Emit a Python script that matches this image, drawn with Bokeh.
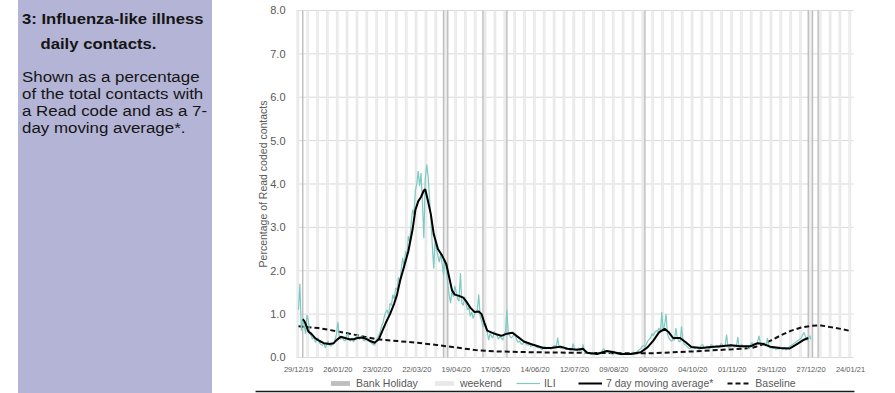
from datetime import datetime, timedelta
from bokeh.plotting import figure
from bokeh.models import (Range1d, FixedTicker, NumeralTickFormatter, DatetimeAxis,
                          DatetimeTickFormatter, Legend, LegendItem, Div,
                          ColumnDataSource, LinearAxis)
from bokeh.layouts import row
from bokeh.embed import file_html
from bokeh.resources import INLINE

# ---------------- data ----------------
start_date = "2019-12-29"
tick_dates = ["2019-12-29", "2020-01-26", "2020-02-23", "2020-03-22", "2020-04-19",
              "2020-05-17", "2020-06-14", "2020-07-12", "2020-08-09", "2020-09-06",
              "2020-10-04", "2020-11-01", "2020-11-29", "2020-12-27", "2021-01-24"]
y_ticks = [0, 1, 2, 3, 4, 5, 6, 7, 8]
bank_holidays = ["2020-01-01", "2020-04-10", "2020-04-13", "2020-05-08", "2020-05-25",
                 "2020-08-31", "2020-12-25", "2020-12-28", "2021-01-01"]

# ILI daily % (weeks Sun..Sat starting 29/12/19)
ili_weeks = [
    [1.10, 1.70, 0.62, 0.90, 0.75, 0.55, 0.98],
    [0.85, 0.55, 0.50, 0.42, 0.48, 0.35, 0.40],
    [0.45, 0.33, 0.30, 0.28, 0.35, 0.22, 0.30],
    [0.38, 0.28, 0.26, 0.30, 0.33, 0.42, 0.55],
    [0.82, 0.45, 0.42, 0.48, 0.40, 0.38, 0.50],
    [0.55, 0.40, 0.38, 0.45, 0.36, 0.40, 0.48],
    [0.52, 0.42, 0.45, 0.50, 0.40, 0.38, 0.46],
    [0.45, 0.38, 0.35, 0.33, 0.30, 0.28, 0.36],
    [0.45, 0.50, 0.60, 0.72, 0.80, 0.95, 1.05],
    [1.10, 0.98, 1.25, 1.20, 1.45, 1.35, 1.60],
    [1.55, 1.85, 1.70, 2.05, 2.30, 2.10, 2.45],
    [2.35, 2.80, 2.65, 3.10, 3.40, 3.30, 3.85],
    [4.00, 4.30, 3.95, 4.25, 3.60, 2.75, 4.10],
    [4.45, 4.20, 3.70, 3.20, 2.60, 2.05, 2.70],
    [2.50, 2.35, 2.20, 2.40, 2.15, 1.90, 2.25],
    [2.05, 1.70, 1.45, 1.25, 1.55, 1.40, 1.65],
    [1.50, 1.35, 1.30, 1.95, 1.25, 1.20, 1.40],
    [1.25, 1.10, 1.15, 0.95, 1.05, 0.90, 1.00],
    [1.05, 1.10, 1.45, 0.95, 0.85, 0.70, 0.80],
    [0.75, 0.60, 0.40, 0.55, 0.50, 0.45, 0.60],
    [0.55, 0.50, 0.42, 0.48, 0.45, 0.40, 0.52],
    [0.60, 1.10, 0.55, 0.50, 0.45, 0.48, 0.55],
    [0.50, 0.40, 0.35, 0.38, 0.32, 0.30, 0.36],
    [0.35, 0.30, 0.28, 0.32, 0.25, 0.27, 0.30],
    [0.28, 0.24, 0.22, 0.25, 0.20, 0.18, 0.24],
    [0.25, 0.20, 0.22, 0.24, 0.19, 0.21, 0.26],
    [0.28, 0.22, 0.46, 0.25, 0.22, 0.20, 0.24],
    [0.22, 0.18, 0.20, 0.21, 0.16, 0.18, 0.32],
    [0.20, 0.17, 0.19, 0.22, 0.16, 0.15, 0.30],
    [0.14, 0.10, 0.09, 0.11, 0.08, 0.07, 0.12],
    [0.10, 0.08, 0.09, 0.12, 0.10, 0.09, 0.18],
    [0.20, 0.12, 0.13, 0.15, 0.11, 0.10, 0.14],
    [0.13, 0.09, 0.08, 0.10, 0.07, 0.06, 0.10],
    [0.09, 0.07, 0.08, 0.09, 0.07, 0.08, 0.12],
    [0.12, 0.10, 0.12, 0.15, 0.18, 0.20, 0.25],
    [0.28, 0.25, 0.30, 0.38, 0.42, 0.45, 0.55],
    [0.50, 0.58, 0.62, 0.60, 0.68, 0.58, 1.04],
    [0.60, 0.75, 1.00, 0.55, 0.45, 0.40, 0.38],
    [0.42, 0.40, 0.68, 0.45, 0.38, 0.36, 0.72],
    [0.40, 0.30, 0.28, 0.25, 0.22, 0.20, 0.24],
    [0.26, 0.20, 0.22, 0.24, 0.20, 0.19, 0.28],
    [0.30, 0.22, 0.21, 0.26, 0.22, 0.20, 0.30],
    [0.28, 0.24, 0.26, 0.27, 0.22, 0.23, 0.32],
    [0.30, 0.25, 0.28, 0.53, 0.24, 0.22, 0.30],
    [0.28, 0.25, 0.24, 0.27, 0.47, 0.22, 0.28],
    [0.30, 0.24, 0.25, 0.28, 0.22, 0.20, 0.30],
    [0.35, 0.30, 0.32, 0.28, 0.36, 0.50, 0.33],
    [0.30, 0.28, 0.32, 0.26, 0.45, 0.24, 0.22],
    [0.22, 0.20, 0.23, 0.18, 0.21, 0.19, 0.24],
    [0.20, 0.18, 0.22, 0.17, 0.20, 0.22, 0.26],
    [0.28, 0.30, 0.33, 0.35, 0.38, 0.40, 0.42],
    [0.45, 0.52, 0.58, 0.48, 0.40, 0.42, 0.50],
    [0.42],
]

# 7 day moving average (day offset from start, value)
ma_days = [3, 4, 5, 7, 9, 12, 15, 18, 22, 25, 27, 30, 33, 36, 39, 42, 45, 48, 51, 54,
           57, 60, 62, 65, 68, 70, 72, 75, 78, 81, 83, 85, 87, 89, 90, 92, 94, 96, 99,
           102, 105, 107, 109, 111, 114, 117, 119, 122, 125, 128, 130, 132, 134, 139,
           144, 148, 152, 156, 160, 165, 170, 174, 179, 186, 191, 198, 202, 205, 212,
           219, 224, 229, 236, 243, 248, 252, 256, 260, 263, 266, 271, 275, 279, 286,
           293, 300, 307, 314, 321, 326, 330, 335, 342, 349, 354, 359, 362]
ma_values = [0.88, 0.85, 0.78, 0.60, 0.55, 0.44, 0.38, 0.33, 0.31, 0.33, 0.40, 0.48,
             0.45, 0.42, 0.42, 0.45, 0.46, 0.43, 0.38, 0.34, 0.42, 0.65, 0.80, 1.00,
             1.25, 1.45, 1.75, 2.10, 2.45, 2.95, 3.40, 3.60, 3.70, 3.85, 3.88, 3.60,
             3.30, 2.85, 2.50, 2.35, 2.15, 1.85, 1.55, 1.45, 1.42, 1.38, 1.30, 1.15,
             1.05, 1.06, 1.00, 0.80, 0.62, 0.55, 0.50, 0.55, 0.57, 0.47, 0.37, 0.31,
             0.26, 0.22, 0.22, 0.25, 0.20, 0.18, 0.20, 0.11, 0.08, 0.15, 0.12, 0.08,
             0.08, 0.12, 0.24, 0.39, 0.58, 0.66, 0.58, 0.45, 0.45, 0.35, 0.24, 0.22,
             0.24, 0.26, 0.28, 0.26, 0.26, 0.33, 0.31, 0.25, 0.22, 0.21, 0.31, 0.41,
             0.45]

# Baseline (day offset from start, value)
baseline_days = [0, 14, 28, 42, 56, 70, 84, 98, 112, 126, 140, 168, 196, 224, 252,
                 280, 308, 322, 329, 336, 343, 350, 357, 364, 371, 378, 385, 392]
baseline_values = [0.72, 0.68, 0.60, 0.51, 0.42, 0.38, 0.34, 0.29, 0.23, 0.17, 0.14,
                   0.12, 0.11, 0.10, 0.10, 0.14, 0.19, 0.22, 0.29, 0.40, 0.52, 0.62,
                   0.69, 0.73, 0.74, 0.70, 0.66, 0.61]

# ---------------- helpers ----------------
EPOCH = datetime(1970, 1, 1)
DAY_MS = 86400000.0


def ms(d):
    return (d - EPOCH).total_seconds() * 1000.0


def parse(s):
    return datetime.strptime(s, "%Y-%m-%d")


t0 = parse(start_date)
ili = [v for wk in ili_weeks for v in wk]
ili_x = [ms(t0 + timedelta(days=i)) for i in range(len(ili))]
ma_x = [ms(t0 + timedelta(days=d)) for d in ma_days]
bl_x = [ms(t0 + timedelta(days=d)) for d in baseline_days]
tick_ms = [ms(parse(s)) for s in tick_dates]
bh_x = [ms(parse(s)) for s in bank_holidays]

# plotting area (days relative to start) and full frame extent
area_lo = ms(t0) - 1.42 * DAY_MS
area_hi = ms(t0) + 394.13 * DAY_MS
x_start = ms(t0) - 34.09 * DAY_MS
x_end = ms(t0) + 418.28 * DAY_MS
rule_lo = ms(t0) - 30.5 * DAY_MS     # footer rule under the legend
rule_hi = ms(t0) + 394.8 * DAY_MS

# weekend days within the plotting area
we_x = []
d = t0 - timedelta(days=1)
while ms(d) <= area_hi:
    if d.weekday() >= 5:
        we_x.append(ms(d))
    d += timedelta(days=1)

FONT = "Liberation Sans"
GREY_TXT = "#595959"

# ---------------- figure ----------------
p = figure(width=647, height=393, output_backend="svg", toolbar_location=None,
           x_axis_location=None, y_axis_location=None,
           x_range=Range1d(x_start, x_end), y_range=Range1d(-0.830, 8.138),
           min_border_left=2, min_border_right=8, min_border_top=4,
           min_border_bottom=0, outline_line_color=None)
p.background_fill_color = "white"
p.border_fill_color = "white"
p.grid.visible = False

# horizontal gridlines across the plotting area
p.segment(x0=[area_lo] * len(y_ticks), x1=[area_hi] * len(y_ticks),
          y0=y_ticks, y1=y_ticks, line_color="#d9d9d9", line_width=1)

yax = LinearAxis(fixed_location=area_lo, bounds=(0, 8),
                 ticker=FixedTicker(ticks=y_ticks),
                 formatter=NumeralTickFormatter(format="0.0"),
                 axis_line_color=None, major_tick_line_color=None,
                 minor_tick_line_color=None,
                 major_label_text_font=FONT, major_label_text_font_size="11px",
                 major_label_text_color=GREY_TXT, major_label_standoff=5,
                 axis_label="Percentage of Read coded contacts",
                 axis_label_text_font=FONT, axis_label_text_font_size="10.5px",
                 axis_label_text_font_style="normal",
                 axis_label_text_color=GREY_TXT, axis_label_standoff=-2)
p.add_layout(yax, "left")

xax = DatetimeAxis(fixed_location=0,
                   ticker=FixedTicker(ticks=tick_ms),
                   formatter=DatetimeTickFormatter(days="%d/%m/%y", months="%d/%m/%y",
                                                   years="%d/%m/%y", hours="%d/%m/%y"),
                   axis_line_color=None, major_tick_line_color=None,
                   minor_tick_line_color=None,
                   major_label_text_font=FONT, major_label_text_font_size="7.5px",
                   major_label_text_color=GREY_TXT, major_label_standoff=2)
p.add_layout(xax, "below")

we_src = ColumnDataSource(dict(x=we_x))
bh_src = ColumnDataSource(dict(x=bh_x))
we_r = p.vbar(x="x", width=DAY_MS, bottom=0, top=8, source=we_src,
              fill_color="#e9e9e9", line_color=None)
bh_r = p.vbar(x="x", width=DAY_MS, bottom=0, top=8, source=bh_src,
              fill_color="#bdbdbd", line_color=None)

bl_r = p.line(bl_x, baseline_values, line_color="#111111", line_width=2.0,
              line_dash="5 3")
ili_r = p.line(ili_x, ili, line_color="#7ccac2", line_width=1.2)
ma_r = p.line(ma_x, ma_values, line_color="#000000", line_width=2.0)

# footer rule below the legend
p.segment(x0=[rule_lo], x1=[rule_hi], y0=[-0.784], y1=[-0.784],
          line_color="#1a1a1a", line_width=1.5)

legend = Legend(items=[
    LegendItem(label="Bank Holiday", renderers=[bh_r]),
    LegendItem(label="weekend", renderers=[we_r]),
    LegendItem(label="ILI", renderers=[ili_r]),
    LegendItem(label="7 day moving average*", renderers=[ma_r]),
    LegendItem(label="Baseline", renderers=[bl_r]),
], orientation="horizontal", location=(78, 4), padding=0, margin=0, spacing=14,
    glyph_width=24, glyph_height=6, label_standoff=4, label_height=12,
    label_text_font=FONT, label_text_font_size="10.5px", label_text_color=GREY_TXT,
    border_line_color=None, background_fill_alpha=0)
p.add_layout(legend)

# ---------------- left panel ----------------
panel_html = (
    '<div style="margin-left:18px;width:194px;height:393px;background:#b4b4d6;'
    'box-sizing:border-box;padding:6px 0 0 4px;font-family:\'Liberation Sans\',Arial,sans-serif;'
    'color:#151515;">'
    '<div style="transform:scaleX(1.09);transform-origin:0 0;">'
    '<div style="font-weight:bold;font-size:15.3px;line-height:25px;">3: Influenza-like illness</div>'
    '<div style="font-weight:bold;font-size:15.3px;line-height:25px;padding-left:17px;">daily contacts.</div>'
    '<div style="font-size:15.5px;line-height:17px;margin-top:12px;">'
    'Shown as a percentage<br>of the total contacts with<br>a Read code and as a 7-<br>'
    'day moving average*.</div></div></div>'
)
panel = Div(text=panel_html, width=248, height=393, margin=0)

layout = row(panel, p)
open("out.html", "w").write(file_html(layout, INLINE))
